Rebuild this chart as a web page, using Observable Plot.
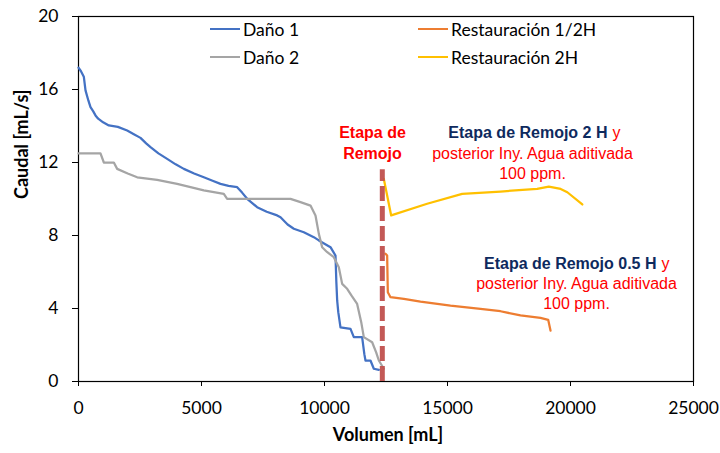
<!DOCTYPE html>
<html>
<head>
<meta charset="utf-8">
<script src="https://cdn.jsdelivr.net/npm/d3@7"></script>
<script src="https://cdn.jsdelivr.net/npm/@observablehq/plot@0.6"></script>
<style>
  body { margin: 0; background: #fff; }
  #chart { position: relative; width: 720px; height: 453px; }
  #legend { position: absolute; left: 210px; top: 18px; font-family: Lato, "Open Sans", sans-serif; font-size: 17.5px; color: #000;
            display: grid; grid-template-columns: 208px auto; row-gap: 6px; }
  #legend .item { display: flex; align-items: center; height: 22px; white-space: nowrap; }
  #legend .sw { width: 30px; height: 2.5px; margin-right: 3px; }
</style>
</head>
<body>
<div id="chart"></div>
<script>
// Axis ticks
const ticksX = [0, 5000, 10000, 15000, 20000, 25000];
const ticksY = [0, 4, 8, 12, 16, 20];

// Daño 1: volumen [mL] vs caudal [mL/s]
const dano1Vol = [0, 100, 216, 285, 400, 488, 600, 691, 800, 1000, 1233, 1600, 1978, 2250, 2520, 2750, 2927, 3250, 3604, 3950, 4282, 4700, 5094, 5450, 5772, 6100, 6450, 6650, 6856, 7262, 7650, 8075, 8212, 8500, 8753, 9160, 9566, 9770, 10244, 10447, 10480, 10515, 10560, 10650, 11057, 11192, 11530, 11620, 11666, 11869, 12005, 12209];
const dano1Q   = [17.2, 17.0, 16.7, 15.95, 15.4, 15.03, 14.8, 14.58, 14.4, 14.2, 14.03, 13.95, 13.75, 13.55, 13.35, 13.05, 12.84, 12.5, 12.2, 11.9, 11.65, 11.4, 11.19, 11.0, 10.83, 10.72, 10.65, 10.35, 10.01, 9.55, 9.3, 9.1, 9.0, 8.6, 8.37, 8.18, 7.91, 7.73, 7.36, 6.9, 5.5, 4.44, 3.8, 2.97, 2.88, 2.43, 2.43, 1.5, 1.15, 1.15, 0.7, 0.64];

// Daño 2
const dano2Vol = [0, 894, 1030, 1436, 1572, 2000, 2385, 3197, 4010, 4553, 5094, 5907, 6043, 8618, 9024, 9431, 9634, 9770, 9905, 10100, 10379, 10582, 10718, 10921, 11100, 11327, 11500, 11598, 11937, 12100, 12209, 12412];
const dano2Q   = [12.5, 12.5, 12.0, 12.0, 11.65, 11.4, 11.19, 11.05, 10.83, 10.65, 10.47, 10.28, 10.01, 10.01, 9.83, 9.64, 9.1, 8.09, 7.36, 7.1, 6.81, 6.26, 5.35, 5.08, 4.7, 4.25, 3.2, 2.43, 2.15, 1.6, 1.15, 0.7];

// Restauración 1/2H
const rest05Vol = [12480, 12547, 12574, 12683, 13225, 13902, 15122, 16341, 17154, 17967, 18780, 19093, 19187];
const rest05Q   = [7.0, 6.9, 4.89, 4.62, 4.53, 4.38, 4.16, 3.98, 3.85, 3.62, 3.49, 3.38, 2.79];

// Restauración 2H
const rest2Vol = [12412, 12710, 14173, 15596, 17154, 18645, 19119, 19600, 19871, 20480];
const rest2Q   = [11.1, 9.1, 9.74, 10.28, 10.41, 10.55, 10.68, 10.55, 10.37, 9.7];

const seriesNames = ["Daño 1", "Daño 2", "Restauración 1/2H", "Restauración 2H"];
const seriesVol = [dano1Vol, dano2Vol, rest05Vol, rest2Vol];
const seriesQ = [dano1Q, dano2Q, rest05Q, rest2Q];

// Soaking stage marker
const soakVol = [12350];
const soakTop = [11.6];

// Annotations (data coordinates)
const soakLabel = ["Etapa de", "Remojo"];
const soakLabelX = [11951, 11951];
const soakLabelY = [13.6, 12.45];

const headText = ["Etapa de Remojo 2 H", "Etapa de Remojo 0.5 H"];
const headX = [21504, 23496];
const headY = [13.6, 6.47];

const bodyText = ["posterior Iny. Agua aditivada", "100 ppm.", "posterior Iny. Agua aditivada", "100 ppm."];
const bodyX = [18455, 18455, 20244, 20244];
const bodyY = [12.45, 11.38, 5.37, 4.27];

const palette = ["#4472C4", "#A5A5A5", "#ED7D31", "#FFC000"];

const rows = seriesNames.flatMap((name, s) =>
  seriesVol[s].map((v, i) => ({serie: name, vol: v, q: seriesQ[s][i]})));

const soak = soakVol.map((v, i) => ({vol: v, top: soakTop[i]}));
const soakNotes = soakLabel.map((t, i) => ({t, x: soakLabelX[i], y: soakLabelY[i]}));
const heads = headText.map((t, i) => ({t, x: headX[i], y: headY[i]}));
const bodies = bodyText.map((t, i) => ({t, x: bodyX[i], y: bodyY[i]}));

const noteFont = "'Liberation Sans', Arial, sans-serif";

const chart = Plot.plot({
  width: 720,
  height: 453,
  marginLeft: 78,
  marginRight: 27,
  marginTop: 16,
  marginBottom: 72,
  style: {fontFamily: "Lato, 'Open Sans', sans-serif", fontSize: "17.5px", color: "#000", background: "#fff", overflow: "visible"},
  x: {domain: [0, 25000]},
  y: {domain: [0, 20]},
  color: {domain: seriesNames, range: palette},
  marks: [
    Plot.axisX({ticks: ticksX, tickFormat: d => String(d), tickSize: 5, tickPadding: 15, label: null, stroke: "#000"}),
    Plot.axisY({ticks: ticksY, tickFormat: d => String(d), tickSize: 6, tickPadding: 14, label: null, stroke: "#000"}),
    Plot.frame({stroke: "#000", strokeWidth: 1.2}),
    Plot.line(rows, {x: "vol", y: "q", z: "serie", stroke: "serie", strokeWidth: 2.25, strokeLinejoin: "round"}),
    Plot.ruleX(soak, {x: "vol", y1: 0, y2: "top", stroke: "#C0504D", strokeWidth: 5, strokeDasharray: "15,5", strokeOpacity: 0.95}),
    Plot.text(soakNotes, {x: "x", y: "y", text: "t", fill: "#FF0000", fontWeight: "bold", fontSize: 16, fontFamily: noteFont}),
    Plot.text(heads, {x: "x", y: "y", text: "t", fill: "#0E2A5E", fontWeight: "bold", fontSize: 16, fontFamily: noteFont, textAnchor: "end"}),
    Plot.text(heads, {x: "x", y: "y", text: () => "y", fill: "#FF0000", fontSize: 16, fontFamily: noteFont, textAnchor: "start", dx: 5}),
    Plot.text(bodies, {x: "x", y: "y", text: "t", fill: "#FF0000", fontSize: 16, fontFamily: noteFont}),
    Plot.text(["Caudal [mL/s]"], {frameAnchor: "left", dx: -56, rotate: -90, fontWeight: "bold", fontSize: 18}),
    Plot.text(["Volumen [mL]"], {frameAnchor: "bottom", dx: 2, dy: 59, fontWeight: "bold", fontSize: 18})
  ]
});

const host = document.getElementById("chart");
host.appendChild(chart);

// Legend inside the plot area, two columns
const legend = document.createElement("div");
legend.id = "legend";
const order = [0, 2, 1, 3];
for (const k of order) {
  const item = document.createElement("div");
  item.className = "item";
  const sw = document.createElement("span");
  sw.className = "sw";
  sw.style.background = palette[k];
  const label = document.createElement("span");
  label.textContent = seriesNames[k];
  item.append(sw, label);
  legend.appendChild(item);
}
host.appendChild(legend);
</script>
</body>
</html>
